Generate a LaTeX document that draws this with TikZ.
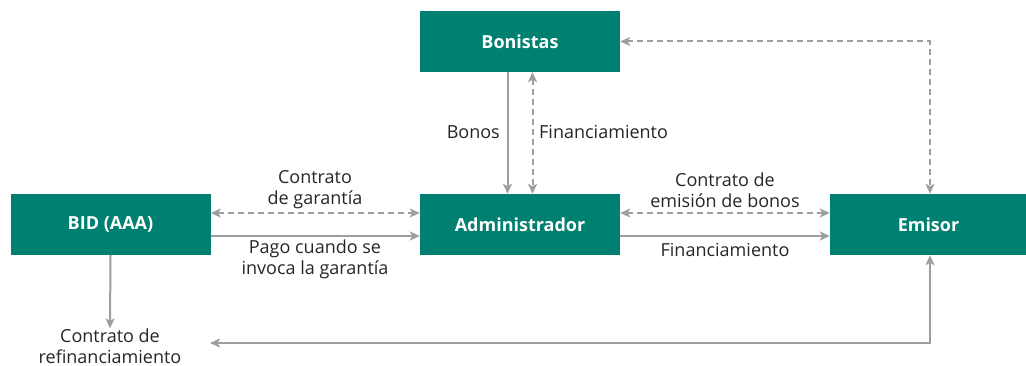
\documentclass[tikz,border=0pt]{standalone}
\usepackage{fontspec}
\setmainfont{Open Sans}
\usetikzlibrary{arrows.meta}
\definecolor{boxgreen}{RGB}{0,128,112}
\definecolor{arrgrey}{RGB}{158,158,162}
\begin{document}
\begin{tikzpicture}[x=1pt,y=-1pt,
  entity/.style={fill=boxgreen,draw=none,minimum width=200pt,minimum height=61pt,inner sep=0pt,
    text=white,font=\fontsize{18}{21}\selectfont\bfseries},
  lbl/.style={font=\fontsize{18}{21}\selectfont,text=black!85,align=center,inner sep=0pt},
  tip/.tip={Stealth[length=10pt,width=9pt,inset=2.5pt]},
  conn/.style={draw=arrgrey,line width=2pt,-tip},
  dconn/.style={conn,tip-tip,dash pattern=on 6pt off 4pt},
  bconn/.style={conn,tip-tip}]
\useasboundingbox (0,0) rectangle (1026,366);
\node[entity] (bon) at (520,41.5) {Bonistas};
\node[entity] (bid) at (110.5,224.5) {BID (AAA)};
\node[entity] (adm) at (520,224.5) {Administrador};
\node[entity,minimum width=197pt] (emi) at (928.5,224.5) {Emisor};
\node[lbl] (ref) at (110,346) {Contrato de\\refinanciamiento};
\coordinate (tr) at (930,41.5);
\coordinate (br) at (930,343);
\coordinate (bl) at (210,343);
% vertical Bonistas-Administrador
\draw[conn] (bon.south -| 507.5,0) -- (adm.north -| 507.5,0);
\draw[dconn] (bon.south -| 532.5,0) -- (adm.north -| 532.5,0);
\node[lbl,anchor=east] (lbonos) at (500,132) {Bonos};
\node[lbl,anchor=west] (lfin1) at (539,132) {Financiamiento};
% BID - Administrador
\draw[dconn] (bid.east |- 0,213) -- (adm.west |- 0,213);
\draw[conn] (bid.east |- 0,236) -- (adm.west |- 0,236);
\node[lbl] (lcg) at (315,190) {Contrato\\de garantía};
\node[lbl] (lpago) at (315,259) {Pago cuando se\\invoca la garantía};
% Administrador - Emisor
\draw[dconn] (adm.east |- 0,213) -- (emi.west |- 0,213);
\draw[conn] (adm.east |- 0,236) -- (emi.west |- 0,236);
\node[lbl] (lceb) at (725,190) {Contrato de\\emisión de bonos};
\node[lbl] (lfin2) at (725,250) {Financiamiento};
% Bonistas - Emisor
\draw[dconn] (bon.east) -- (tr) -- (emi.north -| tr);
% BID - refinanciamiento
\draw[conn] (bid.south) -- (ref.north);
% Emisor - refinanciamiento
\draw[bconn] (emi.south -| br) -- (br) -- (bl);
\end{tikzpicture}
\end{document}
